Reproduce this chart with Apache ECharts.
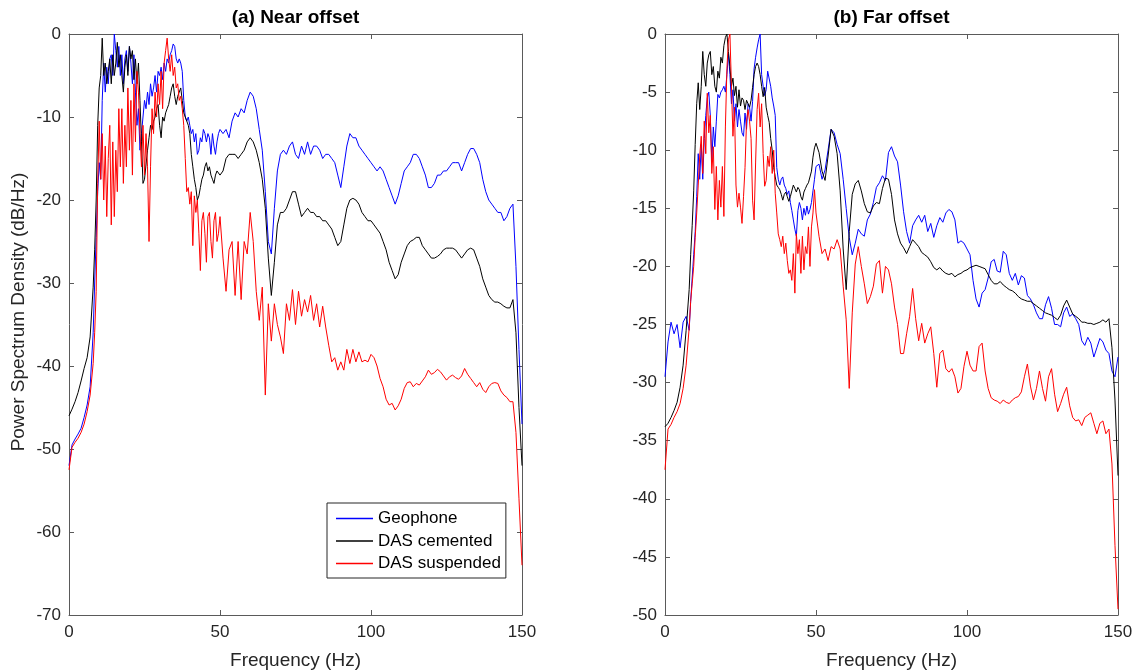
<!DOCTYPE html>
<html>
<head>
<meta charset="utf-8">
<script src="https://cdn.jsdelivr.net/npm/echarts@6/dist/echarts.min.js"></script>
<style>
html,body{margin:0;padding:0;background:#fff;}
#chart{width:1137px;height:672px;}
</style>
</head>
<body>
<div id="chart"></div>
<script>
// Frequency grid (Hz)
const freq = [0,1,2,3,4,5,6,7,8,
8.5,9,9.5,10,10.5,11,11.5,12,12.5,13,
13.5,14,14.5,15,15.5,16,16.5,17,17.5,18,
18.5,19,19.5,20,20.5,21,21.5,22,22.5,23,
23.5,24,24.5,25,25.5,26,26.5,27,27.5,28,
28.5,29,29.5,30,30.5,31,31.5,32,32.5,33,
33.5,34,34.5,35,35.5,36,36.5,37,37.5,38,
38.5,39,39.5,40,40.5,41,41.5,42,42.5,43,
43.5,44,44.5,45,45.5,46,46.5,47,47.5,48,
48.5,49,49.5,50,
51,52,53,54,55,56,57,58,59,60,
61,62,63,64,65,66,67,68,69,70,
71,72,73,74,75,76,77,78,79,80,
81,82,83,84,85,86,87,88,89,90,
91,92,93,94,95,96,97,98,99,100,
101,102,103,104,105,106,107,108,109,110,
111,112,113,114,115,116,117,118,119,120,
121,122,123,124,125,126,127,128,129,130,
131,132,133,134,135,136,137,138,139,140,
141,142,143,144,145,146,147,148,149,150];

const seriesNames = ['Geophone', 'DAS cemented', 'DAS suspended'];
const xTicks = [0, 50, 100, 150];

// (a) Near offset
const nearGeophone = [-52,-49.5,-48.8,-48.2,-47.5,-46.2,-44.7,-42.5,-36,
-30,-24.5,-19,-15.5,-17.5,-8,-3.5,-7,-4,-6,
-3,-2.5,-5,0,-2,-4,-1.5,-5,-2.5,-6,
-3,-2,-4.5,-1.5,-3.5,-6,-2.5,-7,-11,-9,
-14,-12,-10,-8,-9,-7,-8.5,-6,-7.5,-6.5,
-5,-7,-4.5,-5,-4,-5.5,-3.5,-4.5,-3,-3.5,
-2.5,-2,-1.2,-1.5,-3,-3.5,-3,-3.5,-4.5,-8,
-10,-10.5,-10,-11,-12,-11.5,-13,-12,-14.5,-14,
-12.5,-13,-11.5,-12,-13,-12,-12.5,-14.5,-12,-13.5,
-14.5,-13,-12,-11.5,
-12,-11.5,-12.5,-10.5,-9.5,-10,-9,-9.5,-8,-7,
-7.5,-9,-11.5,-14,-19,-25,-26.5,-21,-16.5,-14.5,
-14,-14.5,-13.5,-13,-14.5,-15,-13.5,-14.5,-13,-14.5,
-13.5,-13.5,-14,-15,-14.5,-14.5,-15,-15.5,-17,-18.5,
-16,-13.5,-12,-12.5,-12.5,-13.5,-14,-14.5,-15,-15.5,
-16,-16.5,-16,-16.5,-17.5,-18.5,-19.5,-20.5,-19.5,-18,
-16.5,-16,-15.5,-14.5,-14.5,-15,-16,-17,-18.5,-18.5,
-18,-17,-17,-16.5,-16.5,-16,-15.5,-15.5,-15.5,-16.5,
-15.5,-14.5,-13.8,-13.8,-14.5,-15.5,-17.5,-19,-20,-20.5,
-21,-21.5,-21.5,-22.5,-22,-21,-20.5,-28,-38,-47];

const nearCemented = [-46,-45.2,-44.3,-43.2,-41.8,-40.3,-39,-36.5,-30.5,
-26,-20,-11,-6.5,-5,-0.5,-5,-3.5,-6,-4.5,
-3,-6,-2.5,-5,-3.5,-1,-4,-2.5,-5,-7,
-4,-2.5,-5,-1.5,-3,-2,-5.5,-3,-6,-3.5,
-8,-13,-18,-17.5,-17.5,-14,-12.5,-11,-11.5,-10.5,
-10,-9,-8.5,-11,-12.5,-10,-10.5,-9.5,-9,-8.5,
-7.5,-6.5,-6,-7.5,-8.5,-7.5,-7,-6.5,-8,-9.5,
-10,-10.5,-11,-12,-14.5,-16,-17.5,-18.5,-20,-19.5,
-18.5,-17.5,-17,-16,-15.5,-16.5,-16,-17,-17.5,-18,
-17,-16.5,-16.5,-17,
-16.5,-15,-14.5,-14.5,-14.5,-15,-14.5,-14,-13,-12.5,
-13,-14,-15.5,-17.5,-21,-27,-31.5,-27.5,-23,-21.5,
-21.5,-21,-20,-19,-19,-20.5,-22,-21.5,-21,-21.5,
-21.5,-22,-22,-22.5,-22.5,-23,-23.5,-24.5,-25.5,-25,
-23,-21,-20,-19.8,-20,-20.5,-21.5,-22,-22.5,-22.5,
-23,-23.5,-24,-25,-26,-27.5,-28.5,-29.5,-29,-27.5,
-26.5,-25.5,-25,-24.8,-24.5,-24.5,-25.5,-26,-26.5,-27,
-27,-26.8,-26.5,-26,-25.8,-25.8,-25.8,-26,-26.5,-27,
-26.5,-26,-25.8,-26,-27,-28,-29.5,-30.5,-31.5,-32,
-32.3,-32.3,-32.5,-32.8,-33,-33,-32,-36,-45,-52];

const nearSuspended = [-52.5,-49.8,-49.2,-48.7,-48,-47,-45.5,-43.5,-39.7,
-36,-31,-18,-10.5,-17.5,-12,-20,-13.5,-22,-15,
-11,-23,-13,-22,-14,-19,-9,-16,-9,-18,
-11,-16,-6.5,-14,-8,-17,-6,-13,-4.5,-7,
-12,-16,-11,-17,-12,-16,-25,-16,-9,-12,
-7,-10,-6,-8.5,-4.5,-9,-3.5,-2,-0.5,-3,
-4.5,-2.5,-5,-4,-6.5,-6,-8,-7.5,-9,-11,
-15,-19,-18.5,-20.5,-19,-25.5,-19.5,-21.5,-20,-24,
-28.5,-22.5,-21.5,-24,-27.5,-22,-21.5,-25,-27,-22.5,
-21.5,-25,-24,-22,
-27,-31,-26,-25,-31.5,-25,-32,-25,-26.5,-21.5,
-25,-31,-34.5,-30.5,-43.5,-32.5,-37,-32.5,-35,-36.5,
-38.5,-32.5,-34.5,-30.8,-35,-31,-34,-32,-33.5,-31.5,
-34.5,-32.5,-35.3,-32.8,-35.3,-37.5,-39.5,-39,-40.5,-39.5,
-40.5,-38,-39.7,-38,-39.5,-38.3,-39.5,-39.3,-39.5,-38.6,
-39,-40,-41.5,-42.5,-44,-44.7,-44.5,-45.3,-44.8,-44,
-42.7,-42,-41.9,-42.5,-42.1,-42.3,-41.8,-41.3,-40.5,-41,
-40.8,-40.4,-40.7,-41.2,-41.7,-41.3,-41.1,-41.4,-41.6,-41.2,
-40.3,-41,-41.5,-42,-42.5,-42,-42.8,-43.2,-42.5,-42.1,
-42,-42.1,-43,-43.5,-43.8,-44.3,-44.3,-48,-56,-64];

// (b) Far offset
const farGeophone = [-29.5,-26.5,-24.8,-25.8,-25,-27,-24.8,-24.3,-25.5,
-23,-21,-19,-17,-14,-10.3,-12.5,-9.5,-12.5,-9,
-7,-5.5,-5,-7,-11,-8,-9.7,-7.5,-5.2,-5.5,
-5,-4.8,-4.5,-5,-3.5,-1.7,-3.5,-6,-4.8,-7.5,
-6,-8,-6.5,-7.5,-8.5,-8.8,-6.8,-8.2,-6,-6.3,
-7.5,-5.8,-3,-2,-1.2,-0.5,0,-3.5,-4.5,-5.3,
-4.8,-3.2,-3.3,-4.5,-5.5,-6.2,-7,-11.5,-12.5,-13,
-12.5,-12.3,-13,-13.3,-13.8,-13.5,-14.5,-15.2,-16,-16.8,
-17.4,-15.2,-14.5,-15,-16,-15,-15.6,-14.8,-15.5,-15.1,
-14.5,-13.5,-12.5,-11.4,
-11.2,-12.5,-11.7,-10,-8.2,-8.5,-9.5,-10.3,-12.5,-15,
-17.5,-19,-18,-16.8,-17.2,-17.4,-16,-15.5,-14.5,-13.2,
-12.8,-12.2,-12.6,-10.2,-9.7,-10.5,-11,-13,-15.3,-17,
-18,-16.5,-16,-15.6,-16.2,-15.6,-17,-16.3,-17.5,-16.5,
-15.8,-16.2,-15.4,-15.1,-15.3,-16,-18,-17.8,-18,-18.5,
-19,-21.2,-22.8,-23.5,-22.3,-22,-21,-19.6,-19.4,-20.4,
-20.5,-18.7,-19,-20.6,-21.2,-20.6,-21.6,-20.8,-21,-22.5,
-22.8,-23.3,-24,-24.5,-24.5,-23.3,-22.6,-23.6,-25,-25,
-25.2,-24,-23.5,-24.3,-24.1,-24.5,-25,-26.4,-26.8,-26.1,
-26.6,-27.8,-27,-26.2,-26.5,-27.2,-27.5,-29,-29.5,-27.8];

const farCemented = [-33.8,-33.5,-33,-32.4,-31.7,-30.4,-28.5,-25.5,-22,
-19,-16.5,-13.5,-9.5,-6,-4.2,-6.5,-4.5,-1.5,-3.5,
-4.5,-2.5,-1.8,-1.5,-3.5,-2.8,-4.5,-5,-3.2,-3.8,
-2,-2.5,-1,-0.3,0,-1.5,-2.8,-4.5,-3.8,-5.3,
-4.5,-6.3,-4.8,-6.2,-5.5,-5.7,-6.5,-5.7,-6,-6.3,
-5.7,-4.6,-3.5,-2.8,-2.5,-2.8,-3.5,-4.5,-5.4,-4.6,
-6.3,-7,-7.6,-9,-10,-11.5,-12.3,-13,-13.2,-13.4,
-13.8,-14.3,-13.8,-13.6,-14,-14.4,-14,-13.5,-13,-13.3,
-13.6,-13.2,-13.4,-14,-14.3,-13.6,-13.3,-13,-12.8,-12.9,
-11.8,-10.6,-9.8,-9.4,
-10.2,-11.8,-12.6,-10.5,-8.2,-8.8,-10.3,-13.5,-18.5,-22,
-17,-13.8,-12.9,-12.6,-13.5,-14.6,-15.3,-15.4,-14.8,-14.5,
-14.6,-13.3,-12.4,-12.5,-13.8,-16,-17.2,-18,-18.4,-18.9,
-18.3,-17.7,-18,-18.3,-18.8,-19,-19.2,-19.6,-20.1,-20.3,
-20.1,-20.4,-20.6,-20.7,-20.6,-20.9,-20.7,-20.6,-20.4,-20.3,
-20.1,-20,-19.9,-20,-20.1,-20.2,-20.7,-21.2,-21.5,-21.5,
-21.3,-21.6,-21.8,-22,-22.1,-22.3,-22.6,-22.8,-22.9,-23,
-23,-23.2,-23.4,-23.6,-23.8,-24,-24.1,-24.2,-24.4,-24.6,
-24.2,-23.4,-22.9,-23.5,-24.1,-24.3,-24.5,-24.8,-24.8,-24.9,
-24.9,-25,-24.9,-24.8,-24.6,-24.8,-24.5,-27,-31.5,-38];

const farSuspended = [-37.5,-34,-33.6,-33,-32.5,-31.8,-30.5,-28.5,-25.3,
-23,-21.5,-20,-17.5,-15.4,-13,-10.5,-8.8,-12,-7.5,
-10.3,-5.1,-8.5,-7,-12,-9.7,-15.1,-11.4,-16,-12.6,
-14.9,-11.4,-15.7,-8,-3,-0.5,0,-4.5,-8.8,-6.3,
-13,-14.9,-13.7,-14.9,-16.3,-14,-11.5,-7.5,-6.5,-7.5,
-9,-14.3,-16,-11.1,-6.5,-5.1,-8,-6,-10.3,-13.1,
-12.6,-10.5,-11.4,-9.7,-12,-10,-13.7,-15.4,-17.2,-17.7,
-18.3,-17.4,-18.9,-18,-19.5,-20.6,-20.3,-21.2,-18.9,-22.3,
-17.2,-18.9,-17.7,-20.6,-17.4,-20.3,-18.3,-18.9,-16.6,-20,
-16.6,-15.4,-13.4,-15.4,
-17.4,-18.9,-18.5,-19.5,-18.3,-18.5,-17.7,-18.5,-21.7,-24.6,
-30.5,-24,-19.8,-18.3,-20,-21.5,-23.2,-22.6,-21.7,-19.8,
-19.5,-22.3,-20,-20.3,-21.5,-23.5,-25,-27.5,-27.5,-25.8,
-24.3,-21.9,-24.5,-26.4,-24.9,-26.6,-25.8,-25.2,-27.5,-30.4,
-27.5,-27.2,-28.8,-29.1,-28.8,-29.5,-30.9,-30.5,-28.6,-27.3,
-28.5,-29,-29,-26.9,-26.6,-29,-30.5,-31.3,-31.5,-31.6,
-31.8,-31.5,-31.7,-31.8,-31.5,-31.3,-31.2,-30.8,-29.5,-28.4,
-30.3,-31.5,-30.5,-29,-30.5,-31.6,-29.5,-28.8,-31,-32.5,
-31.8,-31,-30.4,-32,-33,-33.3,-33.2,-33.7,-33,-32.8,
-32.6,-33.5,-34.4,-33.5,-33.3,-34.4,-34,-37,-44,-49.5];

const colors = ['#0000ff', '#000000', '#ff0000'];
const FONT = "'Liberation Sans', Arial, Helvetica, sans-serif";
const axisColor = '#5a5a5a';
const textColor = '#262626';

function pairs(arr) { return freq.map((f, i) => [f, arr[i]]); }

function xAx(grid, pos, labels) {
  return {
    gridIndex: grid, type: 'value', position: pos, min: xTicks[0], max: xTicks[xTicks.length - 1], interval: 50,
    axisLine: { show: true, onZero: false, lineStyle: { color: axisColor, width: 1 } },
    axisTick: { show: true, inside: true, length: 5, lineStyle: { color: axisColor } },
    axisLabel: { show: labels, color: textColor, fontSize: 17, fontFamily: FONT, margin: 9, showMinLabel: true, showMaxLabel: true },
    splitLine: { show: false }
  };
}
function yAx(grid, pos, labels, min, interval) {
  return {
    gridIndex: grid, type: 'value', position: pos, min: min, max: 0, interval: interval,
    axisLine: { show: true, onZero: false, lineStyle: { color: axisColor, width: 1 } },
    axisTick: { show: true, inside: true, length: 5, lineStyle: { color: axisColor } },
    axisLabel: { show: labels, color: textColor, fontSize: 17, fontFamily: FONT, margin: 8, showMinLabel: true, showMaxLabel: true },
    splitLine: { show: false }
  };
}
function line(name, arr, gi, ci) {
  return {
    name: name, type: 'line', xAxisIndex: gi * 2, yAxisIndex: gi * 2, data: pairs(arr),
    showSymbol: false, symbol: 'none', color: colors[ci],
    lineStyle: { color: colors[ci], width: 1 }, itemStyle: { color: colors[ci] },
    emphasis: { disabled: true }, silent: true
  };
}

const chart = echarts.init(document.getElementById('chart'), null, { renderer: 'canvas' });
chart.setOption({
  animation: false,
  backgroundColor: '#ffffff',
  grid: [
    { left: 69, top: 34, width: 453, height: 581 },
    { left: 665, top: 34, width: 453, height: 581 }
  ],
  xAxis: [xAx(0, 'bottom', true), xAx(0, 'top', false), xAx(1, 'bottom', true), xAx(1, 'top', false)],
  yAxis: [yAx(0, 'left', true, -70, 10), yAx(0, 'right', false, -70, 10), yAx(1, 'left', true, -50, 5), yAx(1, 'right', false, -50, 5)],
  legend: {
    orient: 'vertical', left: 327, top: 503,
    data: seriesNames,
    icon: 'rect', itemWidth: 37, itemHeight: 1.5, itemGap: 5.5,
    padding: [7, 5, 6, 9],
    borderColor: '#262626', borderWidth: 1, borderRadius: 0, backgroundColor: '#ffffff',
    textStyle: { fontSize: 17, color: '#000', fontFamily: FONT },
    selectedMode: false
  },
  graphic: [
    { type: 'text', x: 295.5, y: 18, style: { text: '(a) Near offset', font: 'bold 19px ' + FONT, fill: '#000', textAlign: 'center', textVerticalAlign: 'middle' } },
    { type: 'text', x: 891.5, y: 18, style: { text: '(b) Far offset', font: 'bold 19px ' + FONT, fill: '#000', textAlign: 'center', textVerticalAlign: 'middle' } },
    { type: 'text', x: 295.5, y: 661, style: { text: 'Frequency (Hz)', font: '19px ' + FONT, fill: textColor, textAlign: 'center', textVerticalAlign: 'middle' } },
    { type: 'text', x: 891.5, y: 661, style: { text: 'Frequency (Hz)', font: '19px ' + FONT, fill: textColor, textAlign: 'center', textVerticalAlign: 'middle' } },
    { type: 'text', x: 19, y: 312, rotation: Math.PI / 2, style: { text: 'Power Spectrum Density (dB/Hz)', font: '19px ' + FONT, fill: textColor, textAlign: 'center', textVerticalAlign: 'middle' } }
  ],
  series: [
    line(seriesNames[0], nearGeophone, 0, 0),
    line(seriesNames[1], nearCemented, 0, 1),
    line(seriesNames[2], nearSuspended, 0, 2),
    line(seriesNames[0], farGeophone, 1, 0),
    line(seriesNames[1], farCemented, 1, 1),
    line(seriesNames[2], farSuspended, 1, 2)
  ]
});
</script>
</body>
</html>
